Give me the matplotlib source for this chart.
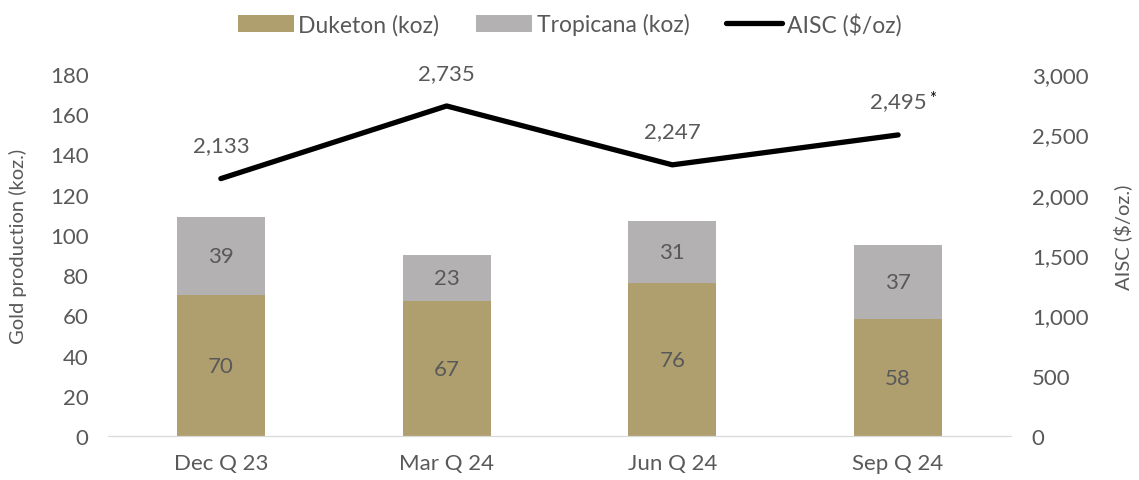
import matplotlib
matplotlib.use("Agg")
import matplotlib.pyplot as plt
import numpy as np

plt.rcParams["font.family"] = ["Lato", "DejaVu Sans"]

quarters = ["Dec Q 23", "Mar Q 24", "Jun Q 24", "Sep Q 24"]
duketon = [70, 67, 76, 58]
tropicana = [39, 23, 31, 37]
aisc = [2133, 2735, 2247, 2495]
aisc_notes = ["", "", "", "*"]

GOLD = "#B09F6E"
GREY = "#B3B1B2"
TEXT = "#595959"

fig = plt.figure(figsize=(11.39, 4.81), dpi=100)
ax = fig.add_axes([0.0948, 0.0915, 0.7928, 0.7526])
ax2 = ax.twinx()

x = np.arange(len(quarters))
w = 0.39
b1 = ax.bar(x, duketon, w, color=GOLD, label="Duketon (koz)")
b2 = ax.bar(x, tropicana, w, bottom=duketon, color=GREY, label="Tropicana (koz)")
for i in range(len(x)):
    ax.text(x[i], duketon[i] / 2, f"{duketon[i]}", ha="center", va="center",
            fontsize=16, color=TEXT)
    ax.text(x[i], duketon[i] + tropicana[i] / 2, f"{tropicana[i]}", ha="center",
            va="center", fontsize=16, color=TEXT)

ln, = ax2.plot(x, aisc, color="black", linewidth=3.8, solid_capstyle="round",
               label="AISC ($/oz)")
for i in range(len(x)):
    ax2.annotate(f"{aisc[i]:,}", (x[i], aisc[i]), xytext=(0, 24),
                 textcoords="offset points", ha="center", va="center",
                 fontsize=16, color=TEXT)
    if aisc_notes[i]:
        ax2.annotate(aisc_notes[i], (x[i], aisc[i]), xytext=(25, 32),
                     textcoords="offset points", ha="center", va="top",
                     fontsize=12, color="black")

ax.set_xlim(-0.5, len(x) - 0.5)
ax.set_ylim(0, 180)
ax.set_yticks(np.arange(0, 181, 20))
ax2.set_ylim(0, 3000)
ax2.set_yticks(np.arange(0, 3001, 500))
ax2.set_yticklabels([f"{v:,}" for v in range(0, 3001, 500)])
ax.set_xticks(x)
ax.set_xticklabels(quarters)

for a in (ax, ax2):
    for s in ("top", "left", "right"):
        a.spines[s].set_visible(False)
    a.spines["bottom"].set_color("#D9D9D9")
    a.tick_params(length=0, labelsize=16, labelcolor=TEXT)
ax.tick_params(axis="y", pad=14)
ax.tick_params(axis="x", pad=12)
ax2.tick_params(axis="y", pad=15)

fig.text(18 / 1139, 1 - 246 / 481, "Gold production (koz.)", rotation=90,
         ha="center", va="center", fontsize=14.5, color=TEXT)
fig.text(1123 / 1139, 1 - 237 / 481, "AISC ($/oz.)", rotation=90,
         ha="center", va="center", fontsize=14.5, color=TEXT)

fig.legend(handles=[b1, b2, ln], loc="upper center", bbox_to_anchor=(0.5, 1.015),
           ncol=3, frameon=False, fontsize=16.5, labelcolor=TEXT,
           handlelength=2.45, handleheight=0.75, handletextpad=0.2,
           columnspacing=1.6)

fig.savefig("out.png", dpi=100)
